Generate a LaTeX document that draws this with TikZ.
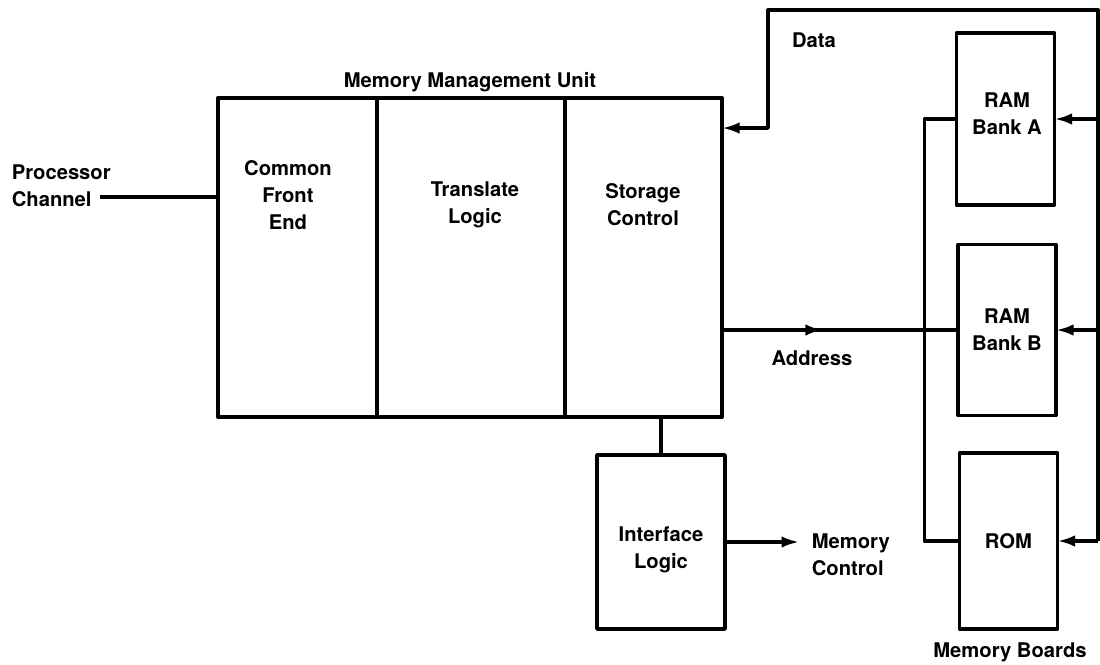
\documentclass[tikz,border=0pt]{standalone}
\usepackage{fontspec}
\setmainfont{TeX Gyre Heros}
\usetikzlibrary{arrows.meta,calc}
\begin{document}
\begin{tikzpicture}[x=0.02cm, y=-0.02cm, >={Latex[length=10pt,width=6.5pt]}, line join=round,
  txt/.style={font=\fontsize{11.5}{15.4}\selectfont\bfseries, align=center, inner sep=2pt},
  unit/.style={draw, line width=2.4pt, inner sep=0pt, outer sep=0pt, minimum height=6.38cm},
  board/.style={draw, line width=2.2pt, txt, outer sep=0pt, minimum width=1.96cm},
  wire/.style={line width=1.9pt}]
  \useasboundingbox (0,0) rectangle (1100,664);
  \node[unit, minimum width=3.18cm] (cfe) at (297.5,257.5) {};
  \node[unit, minimum width=3.76cm] (tl) at (471,257.5) {};
  \node[unit, minimum width=3.14cm] (sc) at (643.5,257.5) {};
  \node[txt] (mmu) at (470,82) {Memory Management Unit};
  \node[txt] (cfe-t) at (288,195) {Common\\Front\\End};
  \node[txt] (tl-t) at (475,205) {Translate\\Logic};
  \node[txt] (sc-t) at (643,205) {Storage\\Control};

  \node[board, minimum height=3.44cm] (ramA) at (1005.5,119) {};
  \node[txt] (ramA-t) at (1007,114) {RAM\\Bank A};
  \node[board, minimum height=3.42cm] (ramB) at (1007,330) {RAM\\Bank B};
  \node[board, minimum height=3.52cm] (rom) at (1008.5,541) {ROM};
  \node[board, minimum width=2.56cm, minimum height=3.48cm] (il) at (661,542) {};
  \node[txt] (il-t) at (661,550) {Interface\\Logic};

  \node[txt, align=left, anchor=west] (pc) at (8,186) {Processor\\Channel};
  \node[txt] (data) at (814,40) {Data};
  \node[txt] (addr) at (812,358) {Address};
  \node[txt, align=left, anchor=west] (mc) at (808,555) {Memory\\Control};
  \node[txt] (mb) at (1010,652) {Memory Boards};

  \coordinate (pcend) at (100,197);
  \coordinate (dr) at (1098,10);
  \coordinate (dl) at (768,10);

  \draw[wire] (pcend) -- (pcend -| cfe.west);
  \draw[wire, ->] (rom.east -| dr) -- (dr) -- (dl) |- ($(sc.north east)+(0,30)$);
  \draw[wire, ->] (ramA.east -| dr) -- (ramA.east);
  \draw[wire, ->] (ramB.east -| dr) -- (ramB.east);
  \draw[wire, ->] (rom.east -| dr) -- (rom.east);
  \draw[wire] (sc.east |- ramB.west) -- (ramB.west);
  \draw[wire, ->] (sc.east |- ramB.west) -- ++(101,0);
  \draw[wire] (ramA.west) -- ++(-32,0) |- (rom.west);
  \draw[wire] (sc.south -| il.north) -- (il.north);
  \draw[wire, ->, shorten >=5pt] (il.east) -- (il.east -| mc.west);
\end{tikzpicture}
\end{document}
